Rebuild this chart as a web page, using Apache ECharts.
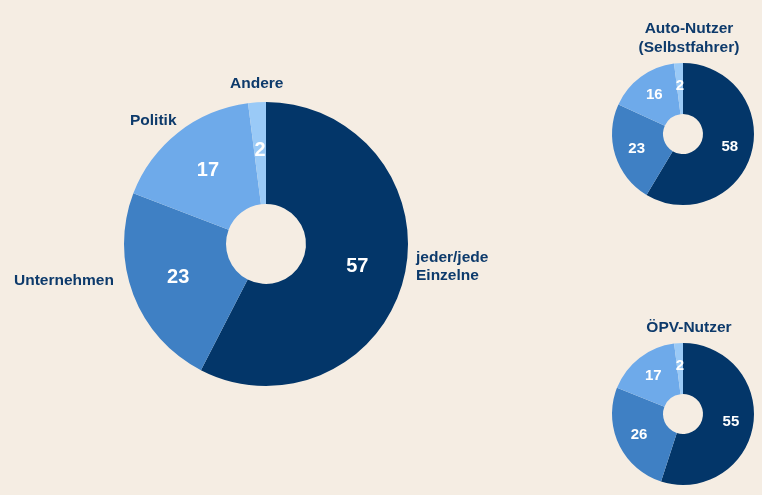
<!DOCTYPE html>
<html>
<head>
<meta charset="utf-8">
<script src="https://cdn.jsdelivr.net/npm/echarts@6/dist/echarts.min.js"></script>
<style>
  html, body { margin: 0; padding: 0; background: #f5ede3; }
  #chart { width: 762px; height: 495px; }
</style>
</head>
<body>
<div id="chart"></div>
<script>
// Kategorien und Werte (Prozent)
var categories = ['jeder/jede Einzelne', 'Unternehmen', 'Politik', 'Andere'];
var gesamt = [57, 23, 17, 2];
var autoNutzer = [58, 23, 16, 2];
var oepvNutzer = [55, 26, 17, 2];
var colors = ['#033669', '#3f80c4', '#6eaaea', '#9acaf7'];

var navy = '#0d3a6b';
var fontFamily = '"Liberation Sans", Arial, sans-serif';

function toData(values) {
  return values.map(function (v, i) {
    return { name: categories[i], value: v };
  });
}

function pieSeries(values, center, radius, fontSize) {
  return {
    type: 'pie',
    center: center,
    radius: radius,
    startAngle: 90,
    clockwise: true,
    avoidLabelOverlap: false,
    silent: true,
    itemStyle: { borderWidth: 0 },
    label: {
      show: true,
      position: 'inside',
      formatter: '{c}',
      color: '#ffffff',
      fontWeight: 'bold',
      fontSize: fontSize,
      fontFamily: fontFamily
    },
    labelLine: { show: false },
    data: toData(values)
  };
}

function outerLabel(text, x, y) {
  return {
    type: 'text',
    left: x,
    top: y,
    style: {
      text: text,
      fill: navy,
      font: 'bold 15.5px ' + fontFamily,
      lineHeight: 18
    }
  };
}

var myChart = echarts.init(document.getElementById('chart'));

var option = {
  backgroundColor: '#f5ede3',
  color: colors,
  animation: false,
  title: [
    {
      text: 'Auto-Nutzer\n(Selbstfahrer)',
      left: 684,
      top: 14,
      textAlign: 'center',
      textStyle: { color: navy, fontSize: 15.5, fontWeight: 'bold', fontFamily: fontFamily, lineHeight: 19 }
    },
    {
      text: 'ÖPV-Nutzer',
      left: 684,
      top: 315,
      textAlign: 'center',
      textStyle: { color: navy, fontSize: 15.5, fontWeight: 'bold', fontFamily: fontFamily }
    }
  ],
  graphic: [
    outerLabel(categories[3], 230, 75),
    outerLabel(categories[2], 130, 112),
    outerLabel(categories[1], 14, 272),
    outerLabel('jeder/jede\nEinzelne', 416, 249)
  ],
  series: [
    pieSeries(gesamt, [266, 244], [40, 142], 20),
    pieSeries(autoNutzer, [683, 134], [20, 71], 15),
    pieSeries(oepvNutzer, [683, 414], [20, 71], 15)
  ]
};

myChart.setOption(option);
</script>
</body>
</html>
